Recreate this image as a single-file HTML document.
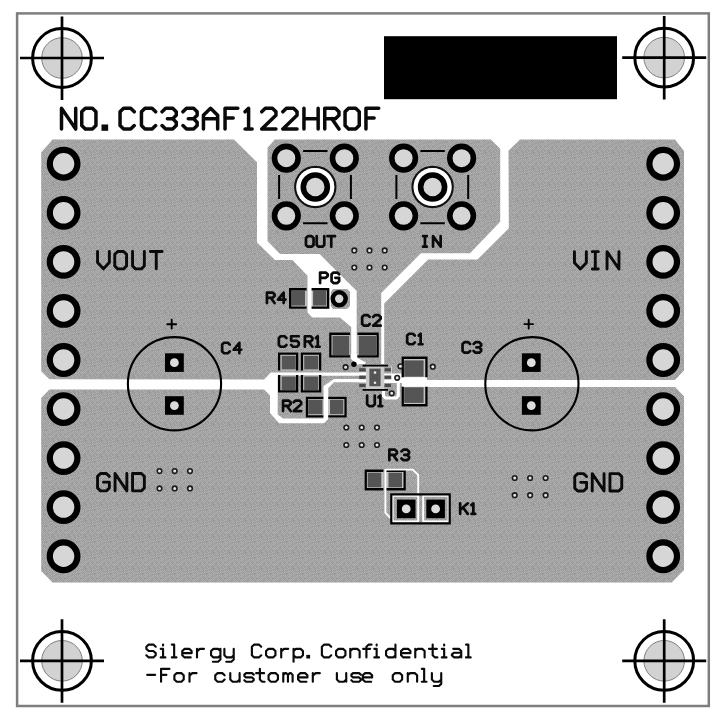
<!DOCTYPE html>
<html><head><meta charset="utf-8"><title>PCB</title>
<style>html,body{margin:0;padding:0;background:#fff}svg{display:block}</style>
</head><body>
<svg width="720" height="720" viewBox="0 0 720 720">
<defs><pattern id="cu" patternUnits="userSpaceOnUse" width="16" height="16"><rect width="16" height="16" fill="#9d9d9d"/><path d="M0 0h1v1h-1zM2 0h1v1h-1zM6 0h1v1h-1zM8 0h1v1h-1zM10 0h1v1h-1zM12 0h1v1h-1zM14 0h1v1h-1zM1 1h1v1h-1zM3 1h1v1h-1zM5 1h1v1h-1zM7 1h1v1h-1zM9 1h1v1h-1zM13 1h1v1h-1zM15 1h1v1h-1zM4 2h1v1h-1zM6 2h1v1h-1zM10 2h1v1h-1zM14 2h1v1h-1zM1 3h1v1h-1zM3 3h1v1h-1zM5 3h1v1h-1zM9 3h1v1h-1zM11 3h1v1h-1zM15 3h1v1h-1zM0 4h1v1h-1zM2 4h1v1h-1zM4 4h1v1h-1zM6 4h1v1h-1zM10 4h1v1h-1zM12 4h1v1h-1zM14 4h1v1h-1zM1 5h1v1h-1zM3 5h1v1h-1zM9 5h1v1h-1zM11 5h1v1h-1zM13 5h1v1h-1zM2 6h1v1h-1zM6 6h1v1h-1zM8 6h1v1h-1zM12 6h1v1h-1zM14 6h1v1h-1zM1 7h1v1h-1zM7 7h1v1h-1zM11 7h1v1h-1zM15 7h1v1h-1zM0 8h1v1h-1zM2 8h1v1h-1zM8 8h1v1h-1zM12 8h1v1h-1zM7 9h1v1h-1zM9 9h1v1h-1zM13 9h1v1h-1zM15 9h1v1h-1zM0 10h1v1h-1zM2 10h1v1h-1zM4 10h1v1h-1zM8 10h1v1h-1zM10 10h1v1h-1zM12 10h1v1h-1zM1 11h1v1h-1zM3 11h1v1h-1zM5 11h1v1h-1zM13 11h1v1h-1zM15 11h1v1h-1zM0 12h1v1h-1zM6 12h1v1h-1zM8 12h1v1h-1zM10 12h1v1h-1zM12 12h1v1h-1zM14 12h1v1h-1zM1 13h1v1h-1zM3 13h1v1h-1zM5 13h1v1h-1zM7 13h1v1h-1zM9 13h1v1h-1zM11 13h1v1h-1zM0 14h1v1h-1zM2 14h1v1h-1zM6 14h1v1h-1zM1 15h1v1h-1zM3 15h1v1h-1zM5 15h1v1h-1zM9 15h1v1h-1zM11 15h1v1h-1zM13 15h1v1h-1zM15 15h1v1h-1z" fill="#b1b1b1"/></pattern></defs>
<rect x="0" y="0" width="720" height="720" fill="#fff"/>
<rect x="17.1" y="13.4" width="691.7" height="692.6" fill="#fff" stroke="#7e7e7e" stroke-width="2.5"/>
<polygon points="52.5,139.5 234.0,139.5 257.0,162.3 257.0,242.5 275.0,260.0 292.5,260.0 307.5,275.8 307.5,312.5 312.5,317.5 340.0,317.5 351.2,327.0 351.2,358.0 357.0,364.0 362.0,364.0 362.0,372.5 270.9,372.6 264.1,379.4 49.4,379.2 41.2,371.2 41.2,152.5" fill="url(#cu)" />
<polygon points="274.8,139.4 490.8,139.4 500.2,148.8 500.2,221.7 470.0,253.2 421.0,253.2 381.2,293.0 381.2,366.0 356.7,366.0 356.7,291.0 319.5,254.0 280.0,254.0 267.5,241.0 267.5,147.7" fill="url(#cu)" />
<polygon points="520.0,139.5 675.0,139.5 684.0,151.0 684.0,370.6 675.0,380.0 427.0,380.0 427.0,377.0 402.0,377.0 402.0,373.5 392.0,373.5 392.0,366.0 384.2,366.0 384.2,303.6 428.2,259.6 477.4,259.6 508.8,228.2 508.5,150.8" fill="url(#cu)" />
<polygon points="49.4,389.6 264.1,389.4 270.0,395.5 270.0,413.0 279.2,423.2 324.0,423.2 328.3,419.0 328.3,388.0 334.0,382.3 359.0,382.3 359.0,390.0 391.0,390.0 391.0,383.0 402.0,383.0 402.0,387.0 675.0,387.0 684.0,396.2 684.0,570.0 671.7,582.6 52.5,582.6 41.2,571.0 41.2,398.0" fill="url(#cu)" />
<polygon points="333.0,289.0 347.0,289.0 350.0,292.0 350.0,306.0 347.0,309.0 333.0,309.0 330.8,306.0 330.8,292.0" fill="url(#cu)" />
<polygon points="277.7,375.8 359.0,375.8 359.0,378.9 334.0,378.9 323.5,386.0 323.5,418.4 283.0,418.4 277.7,414.5" fill="url(#cu)" />
<!--pads-->
<circle cx="63.60" cy="163.75" r="13.80" fill="#d6d6d6" stroke="#000" stroke-width="6.20"/>
<circle cx="663.20" cy="163.75" r="13.80" fill="#d6d6d6" stroke="#000" stroke-width="6.20"/>
<circle cx="63.60" cy="212.81" r="13.80" fill="#d6d6d6" stroke="#000" stroke-width="6.20"/>
<circle cx="663.20" cy="212.81" r="13.80" fill="#d6d6d6" stroke="#000" stroke-width="6.20"/>
<circle cx="63.60" cy="261.87" r="13.80" fill="#d6d6d6" stroke="#000" stroke-width="6.20"/>
<circle cx="663.20" cy="261.87" r="13.80" fill="#d6d6d6" stroke="#000" stroke-width="6.20"/>
<circle cx="63.60" cy="310.93" r="13.80" fill="#d6d6d6" stroke="#000" stroke-width="6.20"/>
<circle cx="663.20" cy="310.93" r="13.80" fill="#d6d6d6" stroke="#000" stroke-width="6.20"/>
<circle cx="63.60" cy="359.99" r="13.80" fill="#d6d6d6" stroke="#000" stroke-width="6.20"/>
<circle cx="663.20" cy="359.99" r="13.80" fill="#d6d6d6" stroke="#000" stroke-width="6.20"/>
<circle cx="63.60" cy="409.05" r="13.80" fill="#d6d6d6" stroke="#000" stroke-width="6.20"/>
<circle cx="663.20" cy="409.05" r="13.80" fill="#d6d6d6" stroke="#000" stroke-width="6.20"/>
<circle cx="63.60" cy="458.11" r="13.80" fill="#d6d6d6" stroke="#000" stroke-width="6.20"/>
<circle cx="663.20" cy="458.11" r="13.80" fill="#d6d6d6" stroke="#000" stroke-width="6.20"/>
<circle cx="63.60" cy="507.17" r="13.80" fill="#d6d6d6" stroke="#000" stroke-width="6.20"/>
<circle cx="663.20" cy="507.17" r="13.80" fill="#d6d6d6" stroke="#000" stroke-width="6.20"/>
<circle cx="63.60" cy="556.23" r="13.80" fill="#d6d6d6" stroke="#000" stroke-width="6.20"/>
<circle cx="663.20" cy="556.23" r="13.80" fill="#d6d6d6" stroke="#000" stroke-width="6.20"/>
<circle cx="62.00" cy="58.00" r="20.3" fill="#d2d2d2" stroke="#808080" stroke-width="1"/>
<circle cx="62.00" cy="58.00" r="29.4" fill="none" stroke="#000" stroke-width="3.0"/>
<path d="M20.00 58.00H104.00M62.00 16.50V100.00" stroke="#000" stroke-width="2.7" fill="none"/>
<circle cx="664.20" cy="57.60" r="20.3" fill="#d2d2d2" stroke="#808080" stroke-width="1"/>
<circle cx="664.20" cy="57.60" r="29.4" fill="none" stroke="#000" stroke-width="3.0"/>
<path d="M622.20 57.60H706.20M664.20 16.10V99.60" stroke="#000" stroke-width="2.7" fill="none"/>
<circle cx="62.00" cy="660.80" r="20.3" fill="#d2d2d2" stroke="#808080" stroke-width="1"/>
<circle cx="62.00" cy="660.80" r="29.4" fill="none" stroke="#000" stroke-width="3.0"/>
<path d="M20.00 660.80H104.00M62.00 619.30V702.80" stroke="#000" stroke-width="2.7" fill="none"/>
<circle cx="664.20" cy="660.80" r="20.3" fill="#d2d2d2" stroke="#808080" stroke-width="1"/>
<circle cx="664.20" cy="660.80" r="29.4" fill="none" stroke="#000" stroke-width="3.0"/>
<path d="M622.20 660.80H706.20M664.20 619.30V702.80" stroke="#000" stroke-width="2.7" fill="none"/>
<rect x="384" y="36.2" width="233" height="63" fill="#000"/>
<circle cx="286.30" cy="158.15" r="11.80" fill="#d6d6d6" stroke="#000" stroke-width="5.60"/>
<circle cx="286.30" cy="215.85" r="11.80" fill="#d6d6d6" stroke="#000" stroke-width="5.60"/>
<circle cx="344.30" cy="158.15" r="11.80" fill="#d6d6d6" stroke="#000" stroke-width="5.60"/>
<circle cx="344.30" cy="215.85" r="11.80" fill="#d6d6d6" stroke="#000" stroke-width="5.60"/>
<circle cx="315.30" cy="187.00" r="20.1" fill="none" stroke="#111" stroke-width="2.2"/>
<circle cx="315.30" cy="187.00" r="19.0" fill="#fff" stroke="none"/>
<circle cx="315.30" cy="187.00" r="12.00" fill="#d6d6d6" stroke="#000" stroke-width="5.60"/>
<path d="M303.10 151.00H327.50M303.10 223.30H327.50M279.10 175.00V199.00M350.90 175.00V199.00" stroke="#000" stroke-width="2.0" fill="none"/>
<circle cx="403.60" cy="158.15" r="11.80" fill="#d6d6d6" stroke="#000" stroke-width="5.60"/>
<circle cx="403.60" cy="215.85" r="11.80" fill="#d6d6d6" stroke="#000" stroke-width="5.60"/>
<circle cx="461.60" cy="158.15" r="11.80" fill="#d6d6d6" stroke="#000" stroke-width="5.60"/>
<circle cx="461.60" cy="215.85" r="11.80" fill="#d6d6d6" stroke="#000" stroke-width="5.60"/>
<circle cx="432.60" cy="187.00" r="20.1" fill="none" stroke="#111" stroke-width="2.2"/>
<circle cx="432.60" cy="187.00" r="19.0" fill="#fff" stroke="none"/>
<circle cx="432.60" cy="187.00" r="12.00" fill="#d6d6d6" stroke="#000" stroke-width="5.60"/>
<path d="M420.40 151.00H444.80M420.40 223.30H444.80M396.40 175.00V199.00M468.20 175.00V199.00" stroke="#000" stroke-width="2.0" fill="none"/>
<circle cx="174.50" cy="383.75" r="46.6" fill="none" stroke="#000" stroke-width="2.1"/>
<rect x="165.00" y="353.30" width="18.8" height="18.6" fill="#000"/>
<circle cx="174.40" cy="362.70" r="4.4" fill="#dcdcdc"/>
<rect x="165.00" y="396.20" width="18.8" height="18.6" fill="#000"/>
<circle cx="174.40" cy="405.60" r="4.4" fill="#dcdcdc"/>
<circle cx="531.90" cy="383.75" r="46.6" fill="none" stroke="#000" stroke-width="2.1"/>
<rect x="521.90" y="353.30" width="18.8" height="18.6" fill="#000"/>
<circle cx="531.30" cy="362.70" r="4.4" fill="#dcdcdc"/>
<rect x="521.90" y="396.20" width="18.8" height="18.6" fill="#000"/>
<circle cx="531.30" cy="405.60" r="4.4" fill="#dcdcdc"/>
<path d="M167.3 324.2h8.8M171.7 319.8v8.8M524.3 324.1h8.8M528.7 319.7v8.8" stroke="#000" stroke-linecap="round" stroke-width="1.9" fill="none"/>
<polygon points="351.2,354.0 356.7,354.0 356.7,357.5 366.0,362.4 364.0,365.0 357.0,364.4 351.2,359.0" fill="#fff" />
<polyline points="383.5,389.5 383.5,396.0 385.5,398.0 396.0,398.0 398.3,396.0 398.3,383.0" fill="none" stroke="#fff" stroke-width="3.00" stroke-linejoin="round" stroke-linecap="butt"/>
<rect x="289.00" y="288.10" width="17.60" height="20.60" fill="#c2c2c2"/>
<rect x="291.30" y="290.70" width="13.70" height="14.90" fill="#555555"/>
<path d="M306.60 289.25H290.15V307.55H306.60" fill="none" stroke="#000" stroke-width="2.30"/>
<rect x="311.60" y="288.10" width="17.70" height="20.60" fill="#c2c2c2"/>
<rect x="313.10" y="290.70" width="13.30" height="14.90" fill="#555555"/>
<path d="M311.60 289.25H328.15V307.55H311.60" fill="none" stroke="#000" stroke-width="2.30"/>
<circle cx="339.20" cy="298.80" r="6.45" fill="#d6d6d6" stroke="#000" stroke-width="4.50"/>
<rect x="329.20" y="332.60" width="20.80" height="24.90" fill="#c2c2c2"/>
<rect x="332.50" y="335.80" width="16.70" height="19.20" fill="#555555"/>
<path d="M350.00 333.75H330.35V356.35H350.00" fill="none" stroke="#000" stroke-width="2.30"/>
<rect x="357.50" y="332.60" width="21.30" height="24.90" fill="#c2c2c2"/>
<rect x="358.70" y="335.80" width="17.30" height="19.20" fill="#555555"/>
<path d="M357.50 333.75H377.65V356.35H357.50" fill="none" stroke="#000" stroke-width="2.30"/>
<rect x="278.00" y="352.50" width="20.30" height="18.00" fill="#c2c2c2"/>
<rect x="281.70" y="355.80" width="14.10" height="13.60" fill="#555555"/>
<path d="M279.15 370.50V353.65H297.15V370.50" fill="none" stroke="#000" stroke-width="2.30"/>
<rect x="278.00" y="375.00" width="20.30" height="17.50" fill="#c2c2c2"/>
<rect x="281.70" y="376.50" width="14.10" height="13.50" fill="#555555"/>
<path d="M279.15 375.00V391.35H297.15V375.00" fill="none" stroke="#000" stroke-width="2.30"/>
<rect x="300.80" y="352.50" width="20.50" height="18.00" fill="#c2c2c2"/>
<rect x="304.20" y="355.80" width="14.10" height="13.60" fill="#555555"/>
<path d="M301.95 370.50V353.65H320.15V370.50" fill="none" stroke="#000" stroke-width="2.30"/>
<rect x="300.80" y="375.00" width="20.50" height="17.50" fill="#c2c2c2"/>
<rect x="304.20" y="376.50" width="14.10" height="13.50" fill="#555555"/>
<path d="M301.95 375.00V391.35H320.15V375.00" fill="none" stroke="#000" stroke-width="2.30"/>
<rect x="305.80" y="396.70" width="17.50" height="20.80" fill="#c2c2c2"/>
<rect x="308.30" y="399.70" width="14.20" height="14.50" fill="#555555"/>
<path d="M323.30 397.85H306.95V416.35H323.30" fill="none" stroke="#000" stroke-width="2.30"/>
<rect x="328.30" y="396.70" width="18.40" height="20.80" fill="#c2c2c2"/>
<rect x="330.00" y="399.70" width="13.30" height="14.50" fill="#555555"/>
<path d="M328.30 397.85H345.55V416.35H328.30" fill="none" stroke="#000" stroke-width="2.30"/>
<rect x="401.60" y="356.60" width="26.00" height="20.60" fill="#c2c2c2"/>
<rect x="404.20" y="360.40" width="19.40" height="16.30" fill="#555555"/>
<path d="M402.75 377.20V357.75H426.45V377.20" fill="none" stroke="#000" stroke-width="2.30"/>
<rect x="401.60" y="386.80" width="26.00" height="19.60" fill="#c2c2c2"/>
<rect x="404.20" y="387.30" width="19.40" height="15.60" fill="#555555"/>
<path d="M402.75 386.80V405.25H426.45V386.80" fill="none" stroke="#000" stroke-width="2.30"/>
<rect x="364.60" y="469.60" width="18.80" height="20.80" fill="#c2c2c2"/>
<rect x="367.70" y="472.70" width="13.60" height="14.60" fill="#555555"/>
<path d="M383.40 470.75H365.75V489.25H383.40" fill="none" stroke="#000" stroke-width="2.30"/>
<rect x="386.20" y="469.60" width="19.60" height="20.80" fill="#c2c2c2"/>
<rect x="388.50" y="472.70" width="13.50" height="14.60" fill="#555555"/>
<path d="M386.20 470.75H404.65V489.25H386.20" fill="none" stroke="#000" stroke-width="2.30"/>
<rect x="359" y="364" width="32.5" height="27" fill="url(#cu)"/>
<path d="M359 372.3h7.5v3.3h-7.5zM359 379.3h7.5v3.3h-7.5zM384 373.4h8v2.2h-8zM384 379.4h8v3.6h-8z" fill="#fff"/>
<rect x="366" y="366.4" width="18.2" height="22.8" fill="#cbcbcb"/>
<rect x="369.4" y="368.6" width="11.2" height="17.6" fill="#555"/>
<circle cx="375" cy="372.6" r="1.3" fill="#e8e8e8"/><circle cx="375" cy="382.8" r="1.3" fill="#e8e8e8"/>
<rect x="359.2" y="368.20" width="6.4" height="3.2" fill="#4a4a4a"/>
<rect x="384.6" y="368.20" width="6.4" height="3.2" fill="#4a4a4a"/>
<rect x="359.2" y="375.70" width="6.4" height="3.2" fill="#4a4a4a"/>
<rect x="384.6" y="375.70" width="6.4" height="3.2" fill="#4a4a4a"/>
<rect x="359.2" y="383.80" width="6.4" height="3.2" fill="#4a4a4a"/>
<rect x="384.6" y="383.80" width="6.4" height="3.2" fill="#4a4a4a"/>
<path d="M362.6 365.6H388M362.6 389.8H388" stroke="#000" stroke-width="1.8" fill="none"/>
<circle cx="353.9" cy="364.2" r="2.7" fill="#000"/>
<circle cx="354.30" cy="250.40" r="2.30" fill="#e6e6e6" stroke="#1c1c1c" stroke-width="1.60"/>
<circle cx="354.30" cy="267.50" r="2.30" fill="#e6e6e6" stroke="#1c1c1c" stroke-width="1.60"/>
<circle cx="369.50" cy="250.40" r="2.30" fill="#e6e6e6" stroke="#1c1c1c" stroke-width="1.60"/>
<circle cx="369.50" cy="267.50" r="2.30" fill="#e6e6e6" stroke="#1c1c1c" stroke-width="1.60"/>
<circle cx="384.70" cy="250.40" r="2.30" fill="#e6e6e6" stroke="#1c1c1c" stroke-width="1.60"/>
<circle cx="384.70" cy="267.50" r="2.30" fill="#e6e6e6" stroke="#1c1c1c" stroke-width="1.60"/>
<circle cx="346.30" cy="427.50" r="2.30" fill="#e6e6e6" stroke="#1c1c1c" stroke-width="1.60"/>
<circle cx="346.30" cy="445.00" r="2.30" fill="#e6e6e6" stroke="#1c1c1c" stroke-width="1.60"/>
<circle cx="361.70" cy="427.50" r="2.30" fill="#e6e6e6" stroke="#1c1c1c" stroke-width="1.60"/>
<circle cx="361.70" cy="445.00" r="2.30" fill="#e6e6e6" stroke="#1c1c1c" stroke-width="1.60"/>
<circle cx="377.00" cy="427.50" r="2.30" fill="#e6e6e6" stroke="#1c1c1c" stroke-width="1.60"/>
<circle cx="377.00" cy="445.00" r="2.30" fill="#e6e6e6" stroke="#1c1c1c" stroke-width="1.60"/>
<circle cx="159.50" cy="471.10" r="2.30" fill="#e6e6e6" stroke="#1c1c1c" stroke-width="1.60"/>
<circle cx="159.50" cy="488.40" r="2.30" fill="#e6e6e6" stroke="#1c1c1c" stroke-width="1.60"/>
<circle cx="174.70" cy="471.10" r="2.30" fill="#e6e6e6" stroke="#1c1c1c" stroke-width="1.60"/>
<circle cx="174.70" cy="488.40" r="2.30" fill="#e6e6e6" stroke="#1c1c1c" stroke-width="1.60"/>
<circle cx="190.00" cy="471.10" r="2.30" fill="#e6e6e6" stroke="#1c1c1c" stroke-width="1.60"/>
<circle cx="190.00" cy="488.40" r="2.30" fill="#e6e6e6" stroke="#1c1c1c" stroke-width="1.60"/>
<circle cx="514.70" cy="478.00" r="2.30" fill="#e6e6e6" stroke="#1c1c1c" stroke-width="1.60"/>
<circle cx="514.70" cy="495.20" r="2.30" fill="#e6e6e6" stroke="#1c1c1c" stroke-width="1.60"/>
<circle cx="530.10" cy="478.00" r="2.30" fill="#e6e6e6" stroke="#1c1c1c" stroke-width="1.60"/>
<circle cx="530.10" cy="495.20" r="2.30" fill="#e6e6e6" stroke="#1c1c1c" stroke-width="1.60"/>
<circle cx="545.60" cy="478.00" r="2.30" fill="#e6e6e6" stroke="#1c1c1c" stroke-width="1.60"/>
<circle cx="545.60" cy="495.20" r="2.30" fill="#e6e6e6" stroke="#1c1c1c" stroke-width="1.60"/>
<circle cx="345.60" cy="367.20" r="2.30" fill="#e6e6e6" stroke="#1c1c1c" stroke-width="1.60"/>
<circle cx="400.40" cy="366.30" r="2.30" fill="#e6e6e6" stroke="#1c1c1c" stroke-width="1.60"/>
<circle cx="397.20" cy="377.80" r="2.30" fill="#e6e6e6" stroke="#1c1c1c" stroke-width="1.60"/>
<circle cx="391.70" cy="393.30" r="2.30" fill="#e6e6e6" stroke="#1c1c1c" stroke-width="1.60"/>
<circle cx="432.80" cy="366.70" r="2.30" fill="#e6e6e6" stroke="#1c1c1c" stroke-width="1.60"/>
<polyline points="386.0,469.6 412.8,469.6 418.2,475.0 418.2,497.0" fill="none" stroke="#fff" stroke-width="1.90" stroke-linejoin="round" stroke-linecap="butt"/>
<polyline points="385.4,469.0 385.4,512.8 390.5,518.0" fill="none" stroke="#fff" stroke-width="1.90" stroke-linejoin="round" stroke-linecap="butt"/>
<rect x="392.6" y="495.8" width="25.6" height="25.6" fill="none" stroke="#fff" stroke-width="1.9"/>
<rect x="423.2" y="495.8" width="25.4" height="25.6" fill="none" stroke="#fff" stroke-width="1.9"/>
<rect x="391.3" y="494.4" width="58.4" height="29" fill="none" stroke="#000" stroke-width="2.2"/>
<rect x="396.90" y="499.6" width="18.6" height="18.6" fill="#000"/>
<circle cx="406.20" cy="508.9" r="4.4" fill="#dcdcdc"/>
<rect x="426.30" y="499.6" width="18.6" height="18.6" fill="#000"/>
<circle cx="435.60" cy="508.9" r="4.4" fill="#dcdcdc"/>
<path d="M61.50 129.05L61.50 108.35L75.70 129.05L75.70 108.35M85.30 129.05L92.40 129.05L95.95 125.60L95.95 111.80L92.40 108.35L85.30 108.35L81.75 111.80L81.75 125.60L85.30 129.05M134.25 125.60L130.70 129.05L123.60 129.05L120.05 125.60L120.05 111.80L123.60 108.35L130.70 108.35L134.25 111.80M155.65 125.60L152.10 129.05L145.00 129.05L141.45 125.60L141.45 111.80L145.00 108.35L152.10 108.35L155.65 111.80M162.05 111.80L165.60 108.35L172.70 108.35L176.25 111.80L176.25 115.25L172.70 118.70L167.38 118.70M172.70 118.70L176.25 122.15L176.25 125.60L172.70 129.05L165.60 129.05L162.05 125.60M182.95 111.80L186.50 108.35L193.60 108.35L197.15 111.80L197.15 115.25L193.60 118.70L188.27 118.70M193.60 118.70L197.15 122.15L197.15 125.60L193.60 129.05L186.50 129.05L182.95 125.60M203.45 129.05L203.45 115.25L210.55 108.35L217.65 115.25L217.65 129.05M203.45 118.70L217.65 118.70M225.05 129.05L225.05 108.35L237.83 108.35M225.05 118.01L233.22 118.01M245.05 111.80L248.60 108.35L248.60 129.05M245.05 129.05L252.15 129.05M261.75 111.80L265.30 108.35L272.40 108.35L275.95 111.80L275.95 115.25L261.75 129.05L275.95 129.05M282.85 111.80L286.40 108.35L293.50 108.35L297.05 111.80L297.05 115.25L282.85 129.05L297.05 129.05M303.95 129.05L303.95 108.35M318.15 129.05L318.15 108.35M303.95 118.70L318.15 118.70M324.75 129.05L324.75 108.35L335.40 108.35L338.95 111.80L338.95 115.25L335.40 118.70L324.75 118.70M331.85 118.70L338.95 129.05M348.60 129.05L355.70 129.05L359.25 125.60L359.25 111.80L355.70 108.35L348.60 108.35L345.05 111.80L345.05 125.60L348.60 129.05M365.95 129.05L365.95 108.35L378.73 108.35M365.95 118.01L374.12 118.01" fill="none" stroke="#0a0a0a" stroke-width="3.50" stroke-linecap="round" stroke-linejoin="round"/><rect x="101.50" y="124.48" width="6.65" height="6.32" fill="#0a0a0a"/>
<text x="59.8" y="130.8" font-size="33.6" fill="none" style="font-family:'Liberation Sans',sans-serif">NO.CC33AF122HROF</text>
<path d="M97.55 251.45L97.55 262.47L103.45 268.85L109.35 262.47L109.35 251.45M117.70 268.85L123.60 268.85L126.55 265.95L126.55 254.35L123.60 251.45L117.70 251.45L114.75 254.35L114.75 265.95L117.70 268.85M132.55 251.45L132.55 265.95L135.50 268.85L141.40 268.85L144.35 265.95L144.35 251.45M150.35 251.45L162.15 251.45M156.25 251.45L156.25 268.85" fill="none" stroke="#0a0a0a" stroke-width="2.90" stroke-linecap="round" stroke-linejoin="round"/>
<text x="96.1" y="270.3" font-size="28.2" fill="none" style="font-family:'Liberation Sans',sans-serif">VOUT</text>
<path d="M574.45 251.65L574.45 262.67L580.40 269.05L586.35 262.67L586.35 251.65M592.33 251.65L598.27 251.65M595.30 251.65L595.30 269.05M592.33 269.05L598.27 269.05M607.05 269.05L607.05 251.65L618.95 269.05L618.95 251.65" fill="none" stroke="#0a0a0a" stroke-width="2.90" stroke-linecap="round" stroke-linejoin="round"/>
<text x="573.0" y="270.5" font-size="28.2" fill="none" style="font-family:'Liberation Sans',sans-serif">VIN</text>
<path d="M109.35 476.35L106.40 473.45L100.50 473.45L97.55 476.35L97.55 487.95L100.50 490.85L106.40 490.85L109.35 487.95L109.35 482.15L103.45 482.15M115.05 490.85L115.05 473.45L126.85 490.85L126.85 473.45M132.55 490.85L132.55 473.45L141.40 473.45L144.35 476.35L144.35 487.95L141.40 490.85L132.55 490.85" fill="none" stroke="#0a0a0a" stroke-width="2.90" stroke-linecap="round" stroke-linejoin="round"/>
<text x="96.1" y="492.3" font-size="28.2" fill="none" style="font-family:'Liberation Sans',sans-serif">GND</text>
<path d="M586.55 476.55L583.60 473.65L577.70 473.65L574.75 476.55L574.75 488.15L577.70 491.05L583.60 491.05L586.55 488.15L586.55 482.35L580.65 482.35M592.25 491.05L592.25 473.65L604.05 491.05L604.05 473.65M609.95 491.05L609.95 473.65L618.80 473.65L621.75 476.55L621.75 488.15L618.80 491.05L609.95 491.05" fill="none" stroke="#0a0a0a" stroke-width="2.90" stroke-linecap="round" stroke-linejoin="round"/>
<text x="573.3" y="492.5" font-size="28.2" fill="none" style="font-family:'Liberation Sans',sans-serif">GND</text>
<path d="M307.85 246.65L311.65 246.65L313.55 244.90L313.55 237.90L311.65 236.15L307.85 236.15L305.95 237.90L305.95 244.90L307.85 246.65M316.70 236.15L316.70 244.90L318.60 246.65L322.40 246.65L324.30 244.90L324.30 236.15M327.45 236.15L335.05 236.15M331.25 236.15L331.25 246.65" fill="none" stroke="#0a0a0a" stroke-width="2.70" stroke-linecap="round" stroke-linejoin="round"/>
<text x="304.6" y="248.0" font-size="18.3" fill="none" style="font-family:'Liberation Sans',sans-serif">OUT</text>
<path d="M423.05 236.15L426.85 236.15M424.95 236.15L424.95 246.65M423.05 246.65L426.85 246.65M433.05 246.65L433.05 236.15L440.65 246.65L440.65 236.15" fill="none" stroke="#0a0a0a" stroke-width="2.70" stroke-linecap="round" stroke-linejoin="round"/>
<text x="419.8" y="248.0" font-size="18.3" fill="none" style="font-family:'Liberation Sans',sans-serif">IN</text>
<path d="M320.10 283.05L320.10 272.55L325.80 272.55L327.70 274.30L327.70 276.05L325.80 277.80L320.10 277.80M339.15 274.30L337.25 272.55L333.45 272.55L331.55 274.30L331.55 281.30L333.45 283.05L337.25 283.05L339.15 281.30L339.15 277.80L335.35 277.80" fill="none" stroke="#0a0a0a" stroke-width="2.70" stroke-linecap="round" stroke-linejoin="round"/>
<text x="318.8" y="284.4" font-size="18.3" fill="none" style="font-family:'Liberation Sans',sans-serif">PG</text>
<path d="M266.95 303.05L266.95 292.55L272.65 292.55L274.55 294.30L274.55 296.05L272.65 297.80L266.95 297.80M270.75 297.80L274.55 303.05M283.65 303.05L283.65 292.55L277.95 299.55L285.55 299.55" fill="none" stroke="#0a0a0a" stroke-width="2.70" stroke-linecap="round" stroke-linejoin="round"/>
<text x="265.6" y="304.4" font-size="18.3" fill="none" style="font-family:'Liberation Sans',sans-serif">R4</text>
<path d="M369.75 323.90L367.85 325.65L364.05 325.65L362.15 323.90L362.15 316.90L364.05 315.15L367.85 315.15L369.75 316.90M373.05 316.90L374.95 315.15L378.75 315.15L380.65 316.90L380.65 318.65L373.05 325.65L380.65 325.65" fill="none" stroke="#0a0a0a" stroke-width="2.70" stroke-linecap="round" stroke-linejoin="round"/>
<text x="360.8" y="327.0" font-size="18.3" fill="none" style="font-family:'Liberation Sans',sans-serif">C2</text>
<path d="M414.75 342.50L412.85 344.25L409.05 344.25L407.15 342.50L407.15 335.50L409.05 333.75L412.85 333.75L414.75 335.50M418.75 335.50L420.65 333.75L420.65 344.25M418.75 344.25L422.55 344.25" fill="none" stroke="#0a0a0a" stroke-width="2.70" stroke-linecap="round" stroke-linejoin="round"/>
<text x="405.8" y="345.6" font-size="18.3" fill="none" style="font-family:'Liberation Sans',sans-serif">C1</text>
<path d="M470.15 350.90L468.25 352.65L464.45 352.65L462.55 350.90L462.55 343.90L464.45 342.15L468.25 342.15L470.15 343.90M473.55 343.90L475.45 342.15L479.25 342.15L481.15 343.90L481.15 345.65L479.25 347.40L476.40 347.40M479.25 347.40L481.15 349.15L481.15 350.90L479.25 352.65L475.45 352.65L473.55 350.90" fill="none" stroke="#0a0a0a" stroke-width="2.70" stroke-linecap="round" stroke-linejoin="round"/>
<text x="461.2" y="354.0" font-size="18.3" fill="none" style="font-family:'Liberation Sans',sans-serif">C3</text>
<path d="M229.75 351.50L227.85 353.25L224.05 353.25L222.15 351.50L222.15 344.50L224.05 342.75L227.85 342.75L229.75 344.50M239.35 353.25L239.35 342.75L233.65 349.75L241.25 349.75" fill="none" stroke="#0a0a0a" stroke-width="2.70" stroke-linecap="round" stroke-linejoin="round"/>
<text x="220.8" y="354.6" font-size="18.3" fill="none" style="font-family:'Liberation Sans',sans-serif">C4</text>
<path d="M286.45 345.00L284.55 346.75L280.75 346.75L278.85 345.00L278.85 338.00L280.75 336.25L284.55 336.25L286.45 338.00M298.75 336.25L291.15 336.25L291.15 340.80L296.85 340.80L298.75 342.55L298.75 345.00L296.85 346.75L293.05 346.75L291.15 345.00" fill="none" stroke="#0a0a0a" stroke-width="2.70" stroke-linecap="round" stroke-linejoin="round"/>
<text x="277.5" y="348.1" font-size="18.3" fill="none" style="font-family:'Liberation Sans',sans-serif">C5</text>
<path d="M304.85 346.75L304.85 336.25L310.55 336.25L312.45 338.00L312.45 339.75L310.55 341.50L304.85 341.50M308.65 341.50L312.45 346.75M315.85 338.00L317.75 336.25L317.75 346.75M315.85 346.75L319.65 346.75" fill="none" stroke="#0a0a0a" stroke-width="2.70" stroke-linecap="round" stroke-linejoin="round"/>
<text x="303.5" y="348.1" font-size="18.3" fill="none" style="font-family:'Liberation Sans',sans-serif">R1</text>
<path d="M283.05 411.05L283.05 400.55L288.75 400.55L290.65 402.30L290.65 404.05L288.75 405.80L283.05 405.80M286.85 405.80L290.65 411.05M293.65 402.30L295.55 400.55L299.35 400.55L301.25 402.30L301.25 404.05L293.65 411.05L301.25 411.05" fill="none" stroke="#0a0a0a" stroke-width="2.70" stroke-linecap="round" stroke-linejoin="round"/>
<text x="281.7" y="412.4" font-size="18.3" fill="none" style="font-family:'Liberation Sans',sans-serif">R2</text>
<path d="M367.15 395.55L367.15 404.30L369.05 406.05L372.85 406.05L374.75 404.30L374.75 395.55M378.45 397.30L380.35 395.55L380.35 406.05M378.45 406.05L382.25 406.05" fill="none" stroke="#0a0a0a" stroke-width="2.70" stroke-linecap="round" stroke-linejoin="round"/>
<text x="365.8" y="407.4" font-size="18.3" fill="none" style="font-family:'Liberation Sans',sans-serif">U1</text>
<path d="M389.35 460.15L389.35 449.65L395.05 449.65L396.95 451.40L396.95 453.15L395.05 454.90L389.35 454.90M393.15 454.90L396.95 460.15M401.45 451.40L403.35 449.65L407.15 449.65L409.05 451.40L409.05 453.15L407.15 454.90L404.30 454.90M407.15 454.90L409.05 456.65L409.05 458.40L407.15 460.15L403.35 460.15L401.45 458.40" fill="none" stroke="#0a0a0a" stroke-width="2.70" stroke-linecap="round" stroke-linejoin="round"/>
<text x="388.0" y="461.5" font-size="18.3" fill="none" style="font-family:'Liberation Sans',sans-serif">R3</text>
<path d="M460.15 513.85L460.15 503.35M467.75 503.35L460.15 510.00M463.00 507.55L467.75 513.85M471.45 505.10L473.35 503.35L473.35 513.85M471.45 513.85L475.25 513.85" fill="none" stroke="#0a0a0a" stroke-width="2.70" stroke-linecap="round" stroke-linejoin="round"/>
<text x="458.8" y="515.2" font-size="18.3" fill="none" style="font-family:'Liberation Sans',sans-serif">K1</text>
<path d="M155.72 646.72L153.39 644.57L148.71 644.57L146.38 646.72L146.38 648.86L148.71 651.00L153.39 651.00L155.72 653.14L155.72 655.28L153.39 657.42L148.71 657.42L146.38 655.28M160.71 648.86L163.05 648.86L163.05 657.42M160.71 657.42L165.39 657.42M163.05 645.43L163.05 644.57M171.81 644.57L174.15 644.57L174.15 657.42M171.81 657.42L176.49 657.42M182.27 653.14L191.62 653.14L191.62 651.00L189.29 648.86L184.61 648.86L182.27 651.00L182.27 655.28L184.61 657.42L190.69 657.42M197.01 648.86L197.01 657.42M197.01 651.43L199.81 648.86L204.02 648.86M220.42 651.00L218.09 648.86L213.41 648.86L211.07 651.00L211.07 655.28L213.41 657.42L218.09 657.42L220.42 655.28M220.42 648.86L220.42 659.57L218.09 661.71L212.94 661.71M224.38 648.86L224.38 655.28L226.71 657.42L231.39 657.42L233.72 655.28M233.72 648.86L233.72 659.57L231.39 661.71L226.25 661.71M261.23 655.28L258.89 657.42L254.21 657.42L251.88 655.28L251.88 646.72L254.21 644.57L258.89 644.57L261.23 646.72M268.41 657.42L273.09 657.42L275.43 655.28L275.43 651.00L273.09 648.86L268.41 648.86L266.07 651.00L266.07 655.28L268.41 657.42M281.21 648.86L281.21 657.42M281.21 651.43L284.01 648.86L288.22 648.86M293.57 648.86L293.57 661.71M293.57 651.00L295.91 648.86L300.59 648.86L302.93 651.00L302.93 655.28L300.59 657.42L295.91 657.42L293.57 655.28" fill="none" stroke="#0a0a0a" stroke-width="2.15" stroke-linecap="round" stroke-linejoin="round"/><rect x="306.30" y="654.89" width="3.80" height="3.61" fill="#0a0a0a"/>
<text x="145.3" y="658.5" font-size="20.8" fill="none" style="font-family:'Liberation Sans',sans-serif">Silergy Corp.</text>
<path d="M331.23 655.28L328.89 657.42L324.21 657.42L321.88 655.28L321.88 646.72L324.21 644.57L328.89 644.57L331.23 646.72M338.41 657.42L343.09 657.42L345.43 655.28L345.43 651.00L343.09 648.86L338.41 648.86L336.07 651.00L336.07 655.28L338.41 657.42M350.27 648.86L350.27 657.42M350.27 651.00L352.61 648.86L357.29 648.86L359.62 651.00L359.62 657.42M366.42 657.42L366.42 646.72L368.75 644.57L371.56 644.57M363.14 648.86L370.16 648.86M374.31 648.86L376.65 648.86L376.65 657.42M374.31 657.42L378.99 657.42M376.65 645.43L376.65 644.57M395.43 644.57L395.43 657.42M395.43 651.00L393.09 648.86L388.41 648.86L386.07 651.00L386.07 655.28L388.41 657.42L393.09 657.42L395.43 655.28M401.07 653.14L410.43 653.14L410.43 651.00L408.09 648.86L403.41 648.86L401.07 651.00L401.07 655.28L403.41 657.42L409.49 657.42M415.27 648.86L415.27 657.42M415.27 651.00L417.61 648.86L422.29 648.86L424.62 651.00L424.62 657.42M432.68 644.57L432.68 655.28L435.02 657.42L437.36 657.42M428.94 648.86L436.89 648.86M441.81 648.86L444.15 648.86L444.15 657.42M441.81 657.42L446.49 657.42M444.15 645.43L444.15 644.57M453.28 648.86L458.89 648.86L461.23 651.00L461.23 657.42M461.23 655.28L458.89 657.42L454.21 657.42L451.88 655.50L451.88 654.43L454.21 652.71L461.23 652.71M466.01 644.57L468.35 644.57L468.35 657.42M466.01 657.42L470.69 657.42" fill="none" stroke="#0a0a0a" stroke-width="2.15" stroke-linecap="round" stroke-linejoin="round"/>
<text x="320.8" y="658.5" font-size="20.8" fill="none" style="font-family:'Liberation Sans',sans-serif">Confidential</text>
<path d="M147.18 674.87L155.12 674.87M161.07 681.72L161.07 668.87L169.49 668.87M161.07 674.87L166.45 674.87M176.71 681.72L181.39 681.72L183.72 679.58L183.72 675.30L181.39 673.16L176.71 673.16L174.38 675.30L174.38 679.58L176.71 681.72M189.51 673.16L189.51 681.72M189.51 675.73L192.31 673.16L196.52 673.16M224.62 675.30L222.29 673.16L217.61 673.16L215.27 675.30L215.27 679.58L217.61 681.72L222.29 681.72L224.62 679.58M230.27 673.16L230.27 679.58L232.61 681.72L237.29 681.72L239.62 679.58M239.62 673.16L239.62 681.72M253.72 674.66L252.09 673.16L246.01 673.16L244.38 674.66L244.38 675.94L246.01 677.44L252.09 677.44L253.72 678.94L253.72 680.23L252.09 681.72L246.01 681.72L244.38 680.23M259.88 668.87L259.88 679.58L262.22 681.72L264.56 681.72M256.14 673.16L264.09 673.16M270.91 681.72L275.59 681.72L277.93 679.58L277.93 675.30L275.59 673.16L270.91 673.16L268.57 675.30L268.57 679.58L270.91 681.72M283.27 673.16L283.27 681.72M283.27 674.87L285.14 673.16L286.31 673.16L287.95 674.87L287.95 681.72M287.95 674.87L289.82 673.16L290.99 673.16L292.62 674.87L292.62 681.72M298.07 677.44L307.43 677.44L307.43 675.30L305.09 673.16L300.41 673.16L298.07 675.30L298.07 679.58L300.41 681.72L306.49 681.72M312.81 673.16L312.81 681.72M312.81 675.73L315.62 673.16L319.82 673.16M336.88 673.16L336.88 679.58L339.21 681.72L343.89 681.72L346.23 679.58M346.23 673.16L346.23 681.72M360.73 674.66L359.09 673.16L353.01 673.16L351.38 674.66L351.38 675.94L353.01 677.44L359.09 677.44L360.73 678.94L360.73 680.23L359.09 681.72L353.01 681.72L351.38 680.23M362.77 677.44L372.12 677.44L372.12 675.30L369.79 673.16L365.11 673.16L362.77 675.30L362.77 679.58L365.11 681.72L371.19 681.72M395.11 681.72L399.79 681.72L402.12 679.58L402.12 675.30L399.79 673.16L395.11 673.16L392.77 675.30L392.77 679.58L395.11 681.72M407.77 673.16L407.77 681.72M407.77 675.30L410.11 673.16L414.79 673.16L417.12 675.30L417.12 681.72M421.81 668.87L424.15 668.87L424.15 681.72M421.81 681.72L426.49 681.72M431.88 673.16L431.88 679.58L434.21 681.72L438.89 681.72L441.23 679.58M441.23 673.16L441.23 683.87L438.89 686.01L433.75 686.01" fill="none" stroke="#0a0a0a" stroke-width="2.15" stroke-linecap="round" stroke-linejoin="round"/>
<text x="145.4" y="682.8" font-size="20.8" fill="none" style="font-family:'Liberation Sans',sans-serif">-For customer use only</text>
</svg>
</body></html>
